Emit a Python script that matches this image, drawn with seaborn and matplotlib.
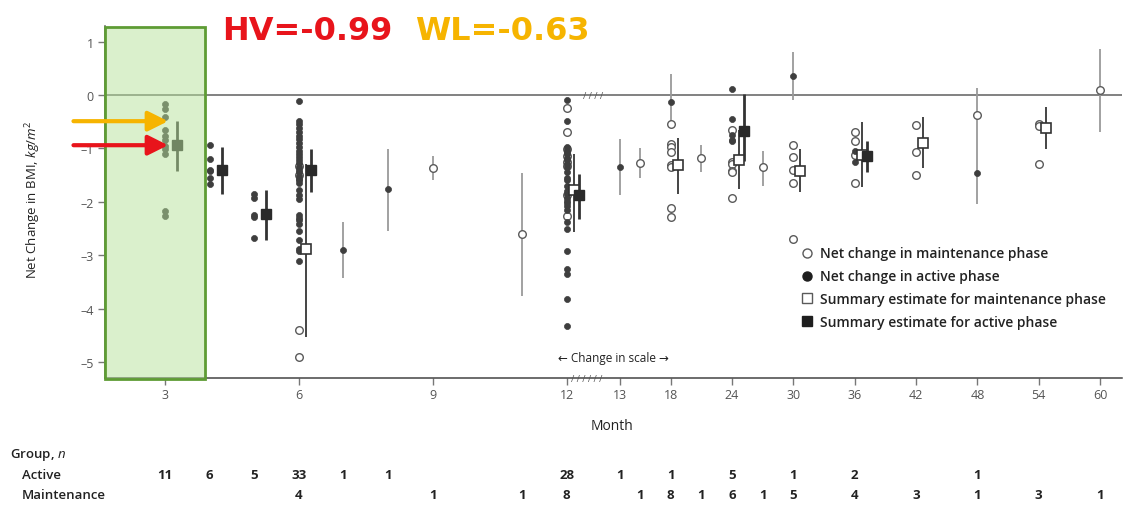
import numpy as np
import pandas as pd
import matplotlib
matplotlib.use("Agg")
import matplotlib.pyplot as plt
import seaborn as sns
from matplotlib.patches import Rectangle
from matplotlib.lines import Line2D
from matplotlib import transforms as mtransforms

# ---------------------------------------------------------------- data
# individual study estimates at months with several studies (kg/m^2)
act_m3 = [-0.17, -0.26, -0.42, -0.66, -0.77, -0.85, -0.95, -1.02, -1.10, -2.18, -2.27]
act_m4 = [-0.93, -1.20, -1.40, -1.42, -1.55, -1.67]
act_m5 = [-1.86, -1.92, -2.25, -2.28, -2.67]
act_m6 = [-0.11, -0.48, -0.55, -0.62, -0.69, -0.76, -0.83, -0.90, -0.97, -1.04, -1.10,
          -1.16, -1.22, -1.28, -1.34, -1.40, -1.45, -1.52, -1.58, -1.60, -1.64, -1.77,
          -1.87, -1.95, -2.24, -2.30, -2.35, -2.42, -2.54, -2.71, -2.88, -2.92, -3.10]
act_m12 = [-0.09, -0.48, -0.98, -1.03, -1.06, -1.10, -1.18, -1.22, -1.30, -1.35, -1.45,
           -1.55, -1.60, -1.70, -1.79, -1.85, -1.93, -1.98, -2.03, -2.08, -2.15, -2.38,
           -2.51, -2.92, -3.25, -3.35, -3.82, -4.33]
act_m24 = [0.11, -0.45, -0.74, -0.84, -0.86]
act_m36 = [-1.05, -1.26]

mnt_m6 = [-1.33, -1.50, -4.41, -4.91]
mnt_m12 = [-0.25, -0.70, -1.02, -1.15, -1.26, -1.33, -1.88, -2.26]
mnt_m18 = [-0.54, -0.92, -0.98, -1.07, -1.32, -1.35, -2.12, -2.29]
mnt_m24 = [-0.65, -1.26, -1.30, -1.42, -1.45, -1.93]
mnt_m30 = [-0.94, -1.17, -1.40, -1.64, -2.70]
mnt_m36 = [-0.70, -0.86, -1.12, -1.64]
mnt_m42 = [-0.56, -1.06, -1.49]
mnt_m54 = [-0.55, -0.58, -1.30]

# months with a single study: estimate and 95% CI
single_act_month = [7, 8, 13, 18, 30, 48]
single_act_est = [-2.90, -1.76, -1.35, -0.13, 0.35, -1.46]
single_act_lo = [-3.43, -2.54, -1.87, -0.57, -0.10, -2.04]
single_act_hi = [-2.38, -1.02, -0.82, 0.39, 0.80, -0.85]

single_mnt_month = [9, 11, 15, 21, 27, 48, 60]
single_mnt_est = [-1.37, -2.60, -1.28, -1.18, -1.35, -0.37, 0.09]
single_mnt_lo = [-1.59, -3.76, -1.55, -1.44, -1.70, -0.85, -0.70]
single_mnt_hi = [-1.14, -1.46, -1.00, -0.94, -1.04, 0.13, 0.86]

# pooled summary estimates with 95% CI
sum_act_month = [3, 4, 5, 6, 12, 24, 36]
sum_act_est = [-0.94, -1.40, -2.23, -1.40, -1.87, -0.67, -1.15]
sum_act_lo = [-1.42, -1.85, -2.72, -1.81, -2.32, -1.23, -1.44]
sum_act_hi = [-0.49, -0.97, -1.77, -1.01, -1.48, 0.02, -0.86]

sum_mnt_month = [6, 12, 18, 24, 30, 36, 42, 54]
sum_mnt_est = [-2.88, -1.77, -1.32, -1.22, -1.42, -1.12, -0.89, -0.62]
sum_mnt_lo = [-4.54, -2.57, -1.85, -1.76, -1.82, -1.73, -1.37, -1.01]
sum_mnt_hi = [-1.29, -1.10, -0.81, -0.65, -1.01, -0.50, -0.41, -0.22]

# number of studies per group
n_act_month = [3, 4, 5, 6, 7, 8, 12, 13, 18, 24, 30, 36, 48]
n_act = [11, 6, 5, 33, 1, 1, 28, 1, 1, 5, 1, 2, 1]
n_mnt_month = [6, 9, 11, 12, 15, 18, 21, 24, 27, 30, 36, 42, 48, 54, 60]
n_mnt = [4, 1, 1, 8, 1, 8, 1, 6, 1, 5, 4, 3, 1, 3, 1]

tick_months = [3, 6, 9, 12, 13, 18, 24, 30, 36, 42, 48, 54, 60]
y_ticks = [1, 0, -1, -2, -3, -4, -5]

hv_value = -0.99
wl_value = -0.63
arrow_wl_y = -0.49
arrow_hv_y = -0.94

legend_labels = ["Net change in maintenance phase",
                 "Net change in active phase",
                 "Summary estimate for maintenance phase",
                 "Summary estimate for active phase"]

# ---------------------------------------------------------------- frames
act_groups = {3: act_m3, 4: act_m4, 5: act_m5, 6: act_m6, 12: act_m12, 24: act_m24, 36: act_m36}
mnt_groups = {6: mnt_m6, 12: mnt_m12, 18: mnt_m18, 24: mnt_m24, 30: mnt_m30,
              36: mnt_m36, 42: mnt_m42, 54: mnt_m54}

df_act = pd.DataFrame(
    [(m, v) for m, vals in act_groups.items() for v in vals]
    + list(zip(single_act_month, single_act_est)),
    columns=["month", "value"])
df_mnt = pd.DataFrame(
    [(m, v) for m, vals in mnt_groups.items() for v in vals]
    + list(zip(single_mnt_month, single_mnt_est)),
    columns=["month", "value"])

# ---------------------------------------------------------------- style
sns.set_theme(style="white")
plt.rcParams["font.family"] = ["Open Sans", "DejaVu Sans"]
plt.rcParams["mathtext.fontset"] = "custom"
plt.rcParams["mathtext.rm"] = "Open Sans"
plt.rcParams["mathtext.it"] = "Open Sans:italic"

DARK = "#3e3e3e"
GREY = "#5a5a5a"

# broken month axis: 1 unit per month up to 12, compressed after 13
_MS = [-100.0, 12.0, 13.0, 200.0]
_US = [-100.0, 12.0, 13.186, 13.186 + 187 * 0.229]


def fwd(m):
    return np.interp(np.asarray(m, float), _MS, _US)


def inv(u):
    return np.interp(np.asarray(u, float), _US, _MS)


fig = plt.figure(figsize=(11.31, 5.10), dpi=100)
fig.patch.set_facecolor("white")
W, H = 1131.0, 510.0
ax = fig.add_axes([105 / W, 1 - 379 / H, 1017 / W, 352.4 / H])
ax.set_facecolor("white")
ax.set_xscale("function", functions=(fwd, inv))
ax.set_xlim(inv(1.658), inv(24.44))
ax.set_ylim(-5.3, 1.3)

# zero reference line
ax.axhline(0, color="#777777", lw=1.3, zorder=1)

# single-study confidence intervals
ax.vlines(single_act_month, single_act_lo, single_act_hi, color="#9a9a9a", lw=1.3, zorder=2)
ax.vlines(single_mnt_month, single_mnt_lo, single_mnt_hi, color="#9a9a9a", lw=1.3, zorder=2)

# individual estimates
sns.scatterplot(data=df_mnt, x="month", y="value", ax=ax, marker="o", s=30,
                color="white", edgecolor=GREY, linewidth=1.0, zorder=3, legend=False)
sns.scatterplot(data=df_act, x="month", y="value", ax=ax, marker="o", s=19,
                color=DARK, edgecolor=DARK, linewidth=0.5, zorder=4, legend=False)

# pooled summaries, nudged to the right of their study columns
tr_mnt = mtransforms.offset_copy(ax.transData, fig=fig, x=7, y=0, units="dots")
tr_act = mtransforms.offset_copy(ax.transData, fig=fig, x=12, y=0, units="dots")
ax.vlines(sum_mnt_month, sum_mnt_lo, sum_mnt_hi, color="#444444", lw=1.4,
          transform=tr_mnt, zorder=5)
ax.plot(sum_mnt_month, sum_mnt_est, ls="", marker="s", ms=7.5, mfc="white",
        mec="#333333", mew=1.2, transform=tr_mnt, zorder=6)
ax.vlines(sum_act_month, sum_act_lo, sum_act_hi, color="#333333", lw=2.0,
          transform=tr_act, zorder=5)
ax.plot(sum_act_month, sum_act_est, ls="", marker="s", ms=7.5, mfc="#2a2a2a",
        mec="#2a2a2a", transform=tr_act, zorder=6)

# axes cosmetics
for side in ("top", "right"):
    ax.spines[side].set_visible(False)
ax.spines["left"].set_color("#777777")
ax.spines["bottom"].set_color("#444444")
ax.spines["bottom"].set_linewidth(1.1)
ax.set_xticks(tick_months)
ax.set_xticklabels([str(m) for m in tick_months])
ax.set_yticks(y_ticks)
ax.set_yticklabels([("\u2013" + str(abs(t))) if t < 0 else str(t) for t in y_ticks])
ax.tick_params(axis="both", direction="out", length=5, width=1, colors="#777777",
               labelcolor="#555555", labelsize=9, bottom=True, left=True)
ax.tick_params(axis="x", pad=2)
ax.tick_params(axis="y", pad=3)
ax.minorticks_off()
ax.set_xlabel("")
ax.set_ylabel("")

# axis break marks
bx = mtransforms.blended_transform_factory(ax.transAxes, ax.transData)
ax.text(0.48, 0.0, "/ / / /", transform=bx, fontsize=6.5, color="#555555",
        ha="center", va="center", zorder=7)
ax.text(0.474, 0.0, "/ / / / / /", transform=ax.transAxes, fontsize=6.5, color="#555555",
        ha="center", va="center", zorder=7, clip_on=False)
ax.text(0.5, -4.91, "\u2190 Change in scale \u2192", transform=bx, fontsize=8.5,
        color="#222222", ha="center", va="center")

# highlighted 3-month window
x_left = inv(1.658)
ax.add_patch(Rectangle((x_left, -5.32), 3.895 - x_left, 6.59,
                       facecolor=(0.714, 0.886, 0.604, 0.5), edgecolor="#5e9c34",
                       lw=2.0, zorder=10, clip_on=False))

# pointer arrows into the highlighted window
for yv, col in ((arrow_wl_y, "#f6b400"), (arrow_hv_y, "#e8141b")):
    ax.annotate("", xy=(3.07, yv), xycoords="data", xytext=(-0.031, yv), textcoords=bx,
                arrowprops=dict(arrowstyle="-|>,head_width=0.5,head_length=1.0",
                                color=col, lw=3.0, shrinkA=0, shrinkB=0),
                zorder=11, annotation_clip=False)

# legend
handles = [
    Line2D([], [], ls="", marker="o", ms=6.5, mfc="white", mec=GREY, mew=1.0),
    Line2D([], [], ls="", marker="o", ms=6.5, mfc="#1e1e1e", mec="#1e1e1e"),
    Line2D([], [], ls="", marker="s", ms=6.5, mfc="white", mec=GREY, mew=1.0),
    Line2D([], [], ls="", marker="s", ms=6.5, mfc="#1e1e1e", mec="#1e1e1e"),
]
leg = ax.legend(handles, legend_labels, loc="upper left", frameon=False,
                bbox_to_anchor=(786 / W, 1 - 235 / H), bbox_transform=fig.transFigure,
                handletextpad=0.35, labelspacing=0.64, handlelength=1.2,
                prop={"size": 10, "weight": "semibold"})
for t in leg.get_texts():
    t.set_color("#222222")

# headline values
fig.text(222 / W, 1 - 31 / H, f"HV={hv_value:.2f}", color="#e8141b", fontsize=23,
         fontweight="bold", family="DejaVu Sans", ha="left", va="center")
fig.text(415 / W, 1 - 31 / H, f"WL={wl_value:.2f}", color="#f6b400", fontsize=23,
         fontweight="bold", family="DejaVu Sans", ha="left", va="center")

# axis titles
fig.text(33 / W, 1 - 200 / H, r"Net Change in BMI, $kg/m^2$", rotation=90,
         fontsize=9.5, color="#222222", ha="center", va="center")
fig.text(612 / W, 1 - 427 / H, "Month", fontsize=10, color="#222222",
         ha="center", va="center")

# study-count table under the axis
tx = mtransforms.blended_transform_factory(ax.transData, fig.transFigure)
fig.text(10 / W, 1 - 455 / H, r"Group, $n$", fontsize=9.5, color="#222222",
         ha="left", va="center", fontweight="semibold")
fig.text(22 / W, 1 - 476 / H, "Active", fontsize=9.5, color="#222222",
         ha="left", va="center", fontweight="semibold")
fig.text(22 / W, 1 - 496 / H, "Maintenance", fontsize=9.5, color="#222222",
         ha="left", va="center", fontweight="semibold")
for m, n in zip(n_act_month, n_act):
    ax.text(m, 1 - 476 / H, str(n), transform=tx, fontsize=9.5, fontweight="bold",
            color="#222222", ha="center", va="center", clip_on=False)
for m, n in zip(n_mnt_month, n_mnt):
    ax.text(m, 1 - 496 / H, str(n), transform=tx, fontsize=9.5, fontweight="bold",
            color="#222222", ha="center", va="center", clip_on=False)

fig.savefig("out.png", dpi=100, facecolor="white")
